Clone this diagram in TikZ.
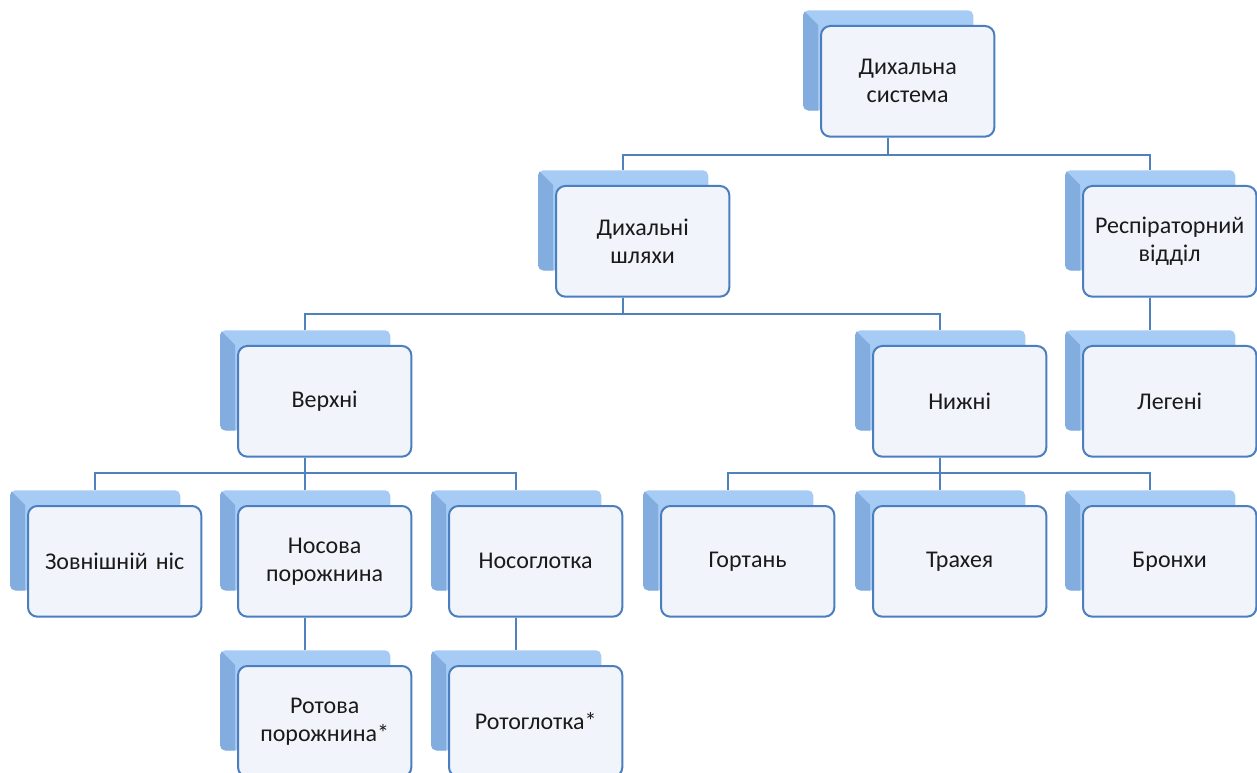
\documentclass[tikz,border=0pt]{standalone}
\usepackage{fontspec}
\setmainfont{Carlito}
\definecolor{boxline}{HTML}{4A7EBF}
\definecolor{boxfill}{HTML}{F1F4FA}
\definecolor{backtop}{HTML}{A6CBF4}
\definecolor{backdark}{HTML}{83ADDF}
\definecolor{conncol}{HTML}{4F81BD}
\definecolor{txt}{HTML}{1A1A1A}
\tikzset{
  backbox/.style={rectangle, draw=none, rounded corners=4pt, inner sep=0pt,
    minimum width=127.5pt, minimum height=75pt, fill=backtop},
  bevel/.style={fill=backdark},
  frontbox/.style={rectangle, draw=boxline, line width=1.5pt, fill=boxfill, rounded corners=7pt,
    inner sep=0pt, minimum width=130pt, minimum height=83pt, text width=125pt, align=center,
    font=\fontsize{18pt}{21pt}\selectfont, text=txt},
  conn/.style={draw=conncol, line width=1.5pt}
}
\newcommand\smbox[4]{%
  \node[backbox, anchor=north west] (#1-b) at (#2-17,#3-15) {};
  \begin{scope}
    \clip[rounded corners=4pt] (#1-b.north west) rectangle (#1-b.south east);
    \fill[bevel] (#1-b.north west) -- ++(15,15) -- ([xshift=11.25pt]#1-b.south west) -- (#1-b.south west) -- cycle;
  \end{scope}
  \node[frontbox, anchor=north west] (#1) at (#2,#3) {#4};
}
\begin{document}
\begin{tikzpicture}[x=0.75pt,y=-0.75pt]
\useasboundingbox (0,0) rectangle (1257,773);
\smbox{ds}{820}{25}{Дихальна\\система}
\smbox{sh}{555}{185}{Дихальні\\шляхи}
\smbox{rv}{1082}{185}{Респіраторний\\відділ}
\smbox{ve}{237}{345}{Верхні}
\smbox{ni}{872}{345}{Нижні}
\smbox{le}{1082}{345}{Легені}
\smbox{zn}{27}{505}{Зовнішній ніс}
\smbox{np}{237}{505}{Носова\\порожнина}
\smbox{ng}{448}{505}{Носоглотка}
\smbox{go}{660}{505}{Гортань}
\smbox{tr}{872}{505}{Трахея}
\smbox{br}{1082}{505}{Бронхи}
\smbox{rp}{237}{665}{Ротова\\порожнина*}
\smbox{rg}{448}{665}{Ротоглотка*}
% connectors
\draw[conn] (ds-b.center |- ds.south) -- ++(0,17) -| (sh-b.north);
\draw[conn] (ds-b.center |- ds.south) -- ++(0,17) -| (rv-b.north);
\draw[conn] (sh-b.center |- sh.south) -- ++(0,16) -| (ve-b.north);
\draw[conn] (sh-b.center |- sh.south) -- ++(0,16) -| (ni-b.north);
\draw[conn] (rv-b.center |- rv.south) -- (le-b.north);
\draw[conn] (ve-b.center |- ve.south) -- ++(0,15) -| (zn-b.north);
\draw[conn] (ve-b.center |- ve.south) -- ++(0,15) -| (np-b.north);
\draw[conn] (ve-b.center |- ve.south) -- ++(0,15) -| (ng-b.north);
\draw[conn] (ni-b.center |- ni.south) -- ++(0,15) -| (go-b.north);
\draw[conn] (ni-b.center |- ni.south) -- ++(0,15) -| (tr-b.north);
\draw[conn] (ni-b.center |- ni.south) -- ++(0,15) -| (br-b.north);
\draw[conn] (np-b.center |- np.south) -- (rp-b.north);
\draw[conn] (ng-b.center |- ng.south) -- (rg-b.north);
\end{tikzpicture}
\end{document}
